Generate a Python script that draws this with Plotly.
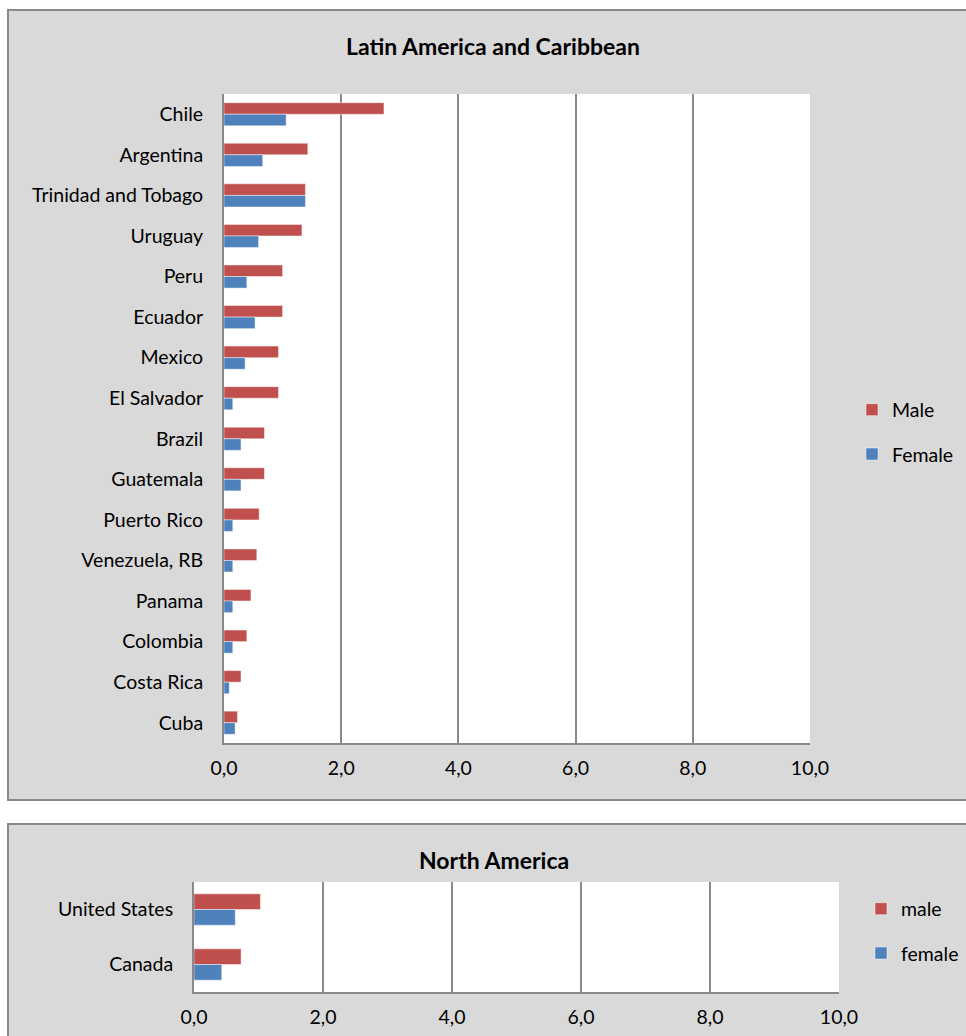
import plotly.graph_objects as go

# Latin America and Caribbean
lac_countries = ["Chile", "Argentina", "Trinidad and Tobago", "Uruguay", "Peru", "Ecuador",
                 "Mexico", "El Salvador", "Brazil", "Guatemala", "Puerto Rico", "Venezuela, RB",
                 "Panama", "Colombia", "Costa Rica", "Cuba"]
lac_male = [2.73, 1.43, 1.39, 1.33, 1.0, 1.0, 0.93, 0.93, 0.69, 0.69, 0.60, 0.56, 0.46, 0.39, 0.29, 0.23]
lac_female = [1.06, 0.66, 1.39, 0.59, 0.39, 0.53, 0.36, 0.15, 0.29, 0.29, 0.15, 0.15, 0.15, 0.15, 0.09, 0.19]

# North America
na_countries = ["United States", "Canada"]
na_male = [1.03, 0.73]
na_female = [0.64, 0.43]

x_ticks = [0, 2, 4, 6, 8, 10]

RED = "#c0504d"
BLUE = "#4f81bd"
GRID = "#898989"
PANEL = "#d9d9d9"
FONT = "Lato"
TICK_SIZE = 19.5

W, H = 966, 1036


def px_x(p):
    return p / W


def px_y(p):
    return 1 - p / H


fig = go.Figure()

bar_line = dict(color="rgba(255,255,255,0.45)", width=1)
fig.add_trace(go.Bar(y=lac_countries, x=lac_male, name="Male", orientation="h",
                     marker=dict(color=RED, line=bar_line), legendgroup="m1",
                     xaxis="x", yaxis="y", legend="legend"))
fig.add_trace(go.Bar(y=lac_countries, x=lac_female, name="Female", orientation="h",
                     marker=dict(color=BLUE, line=bar_line), legendgroup="f1",
                     xaxis="x", yaxis="y", legend="legend"))
fig.add_trace(go.Bar(y=na_countries, x=na_male, name="male", orientation="h",
                     marker=dict(color=RED, line=bar_line), legendgroup="m2",
                     xaxis="x2", yaxis="y2", legend="legend2"))
fig.add_trace(go.Bar(y=na_countries, x=na_female, name="female", orientation="h",
                     marker=dict(color=BLUE, line=bar_line), legendgroup="f2",
                     xaxis="x2", yaxis="y2", legend="legend2"))

xaxis_common = dict(range=[0, 10], tickvals=x_ticks, tickformat=".1f",
                    showgrid=True, gridcolor=GRID, gridwidth=2,
                    showline=True, linecolor=GRID, linewidth=2,
                    zeroline=False, ticks="", fixedrange=True, automargin=False,
                    ticklabelstandoff=7,
                    tickfont=dict(family=FONT, size=TICK_SIZE, color="#000"))
yaxis_common = dict(autorange="reversed", showline=True, linecolor=GRID, linewidth=2,
                    showgrid=False, ticks="", automargin=False, fixedrange=True,
                    ticklabelstandoff=15,
                    tickfont=dict(family=FONT, size=TICK_SIZE, color="#000"))

legend_common = dict(xanchor="left", yanchor="middle", bgcolor="rgba(0,0,0,0)",
                     font=dict(family=FONT, size=TICK_SIZE, color="#000"),
                     itemwidth=30, tracegroupgap=16)

fig.update_layout(
    width=W, height=H,
    margin=dict(l=0, r=0, t=0, b=0, autoexpand=False),
    paper_bgcolor="white",
    plot_bgcolor="white",
    separators=", ",
    barmode="group",
    bargap=0.43,
    bargroupgap=0,
    font=dict(family=FONT, size=TICK_SIZE, color="#000"),
    xaxis=dict(domain=[px_x(224), px_x(810)], anchor="y", **xaxis_common),
    yaxis=dict(domain=[px_y(743), px_y(94)], anchor="x", **yaxis_common),
    xaxis2=dict(domain=[px_x(194), px_x(839)], anchor="y2", **xaxis_common),
    yaxis2=dict(domain=[px_y(992), px_y(882)], anchor="x2", **yaxis_common),
    legend=dict(x=px_x(852), y=px_y(432), **legend_common),
    legend2=dict(x=px_x(861), y=px_y(931), **legend_common),
    showlegend=True,
)

# Gray chart panels, with white plotting areas on top of them
fig.add_shape(type="rect", xref="paper", yref="paper", layer="below",
              x0=px_x(8), x1=px_x(972), y0=px_y(800), y1=px_y(10),
              fillcolor=PANEL, line=dict(color=GRID, width=2))
fig.add_shape(type="rect", xref="paper", yref="paper", layer="below",
              x0=px_x(8), x1=px_x(972), y0=px_y(1044), y1=px_y(824),
              fillcolor=PANEL, line=dict(color=GRID, width=2))
fig.add_shape(type="rect", xref="paper", yref="paper", layer="below",
              x0=px_x(224), x1=px_x(810), y0=px_y(743), y1=px_y(94),
              fillcolor="white", line=dict(width=0))
fig.add_shape(type="rect", xref="paper", yref="paper", layer="below",
              x0=px_x(194), x1=px_x(839), y0=px_y(992), y1=px_y(882),
              fillcolor="white", line=dict(width=0))

fig.add_annotation(text="<b>Latin America and Caribbean</b>", xref="paper", yref="paper",
                   x=px_x(493), y=px_y(46), xanchor="center", yanchor="middle", showarrow=False,
                   font=dict(family=FONT, size=23, color="#000"))
fig.add_annotation(text="<b>North America</b>", xref="paper", yref="paper",
                   x=px_x(494), y=px_y(860), xanchor="center", yanchor="middle", showarrow=False,
                   font=dict(family=FONT, size=23, color="#000"))

fig.write_html("out.html")
